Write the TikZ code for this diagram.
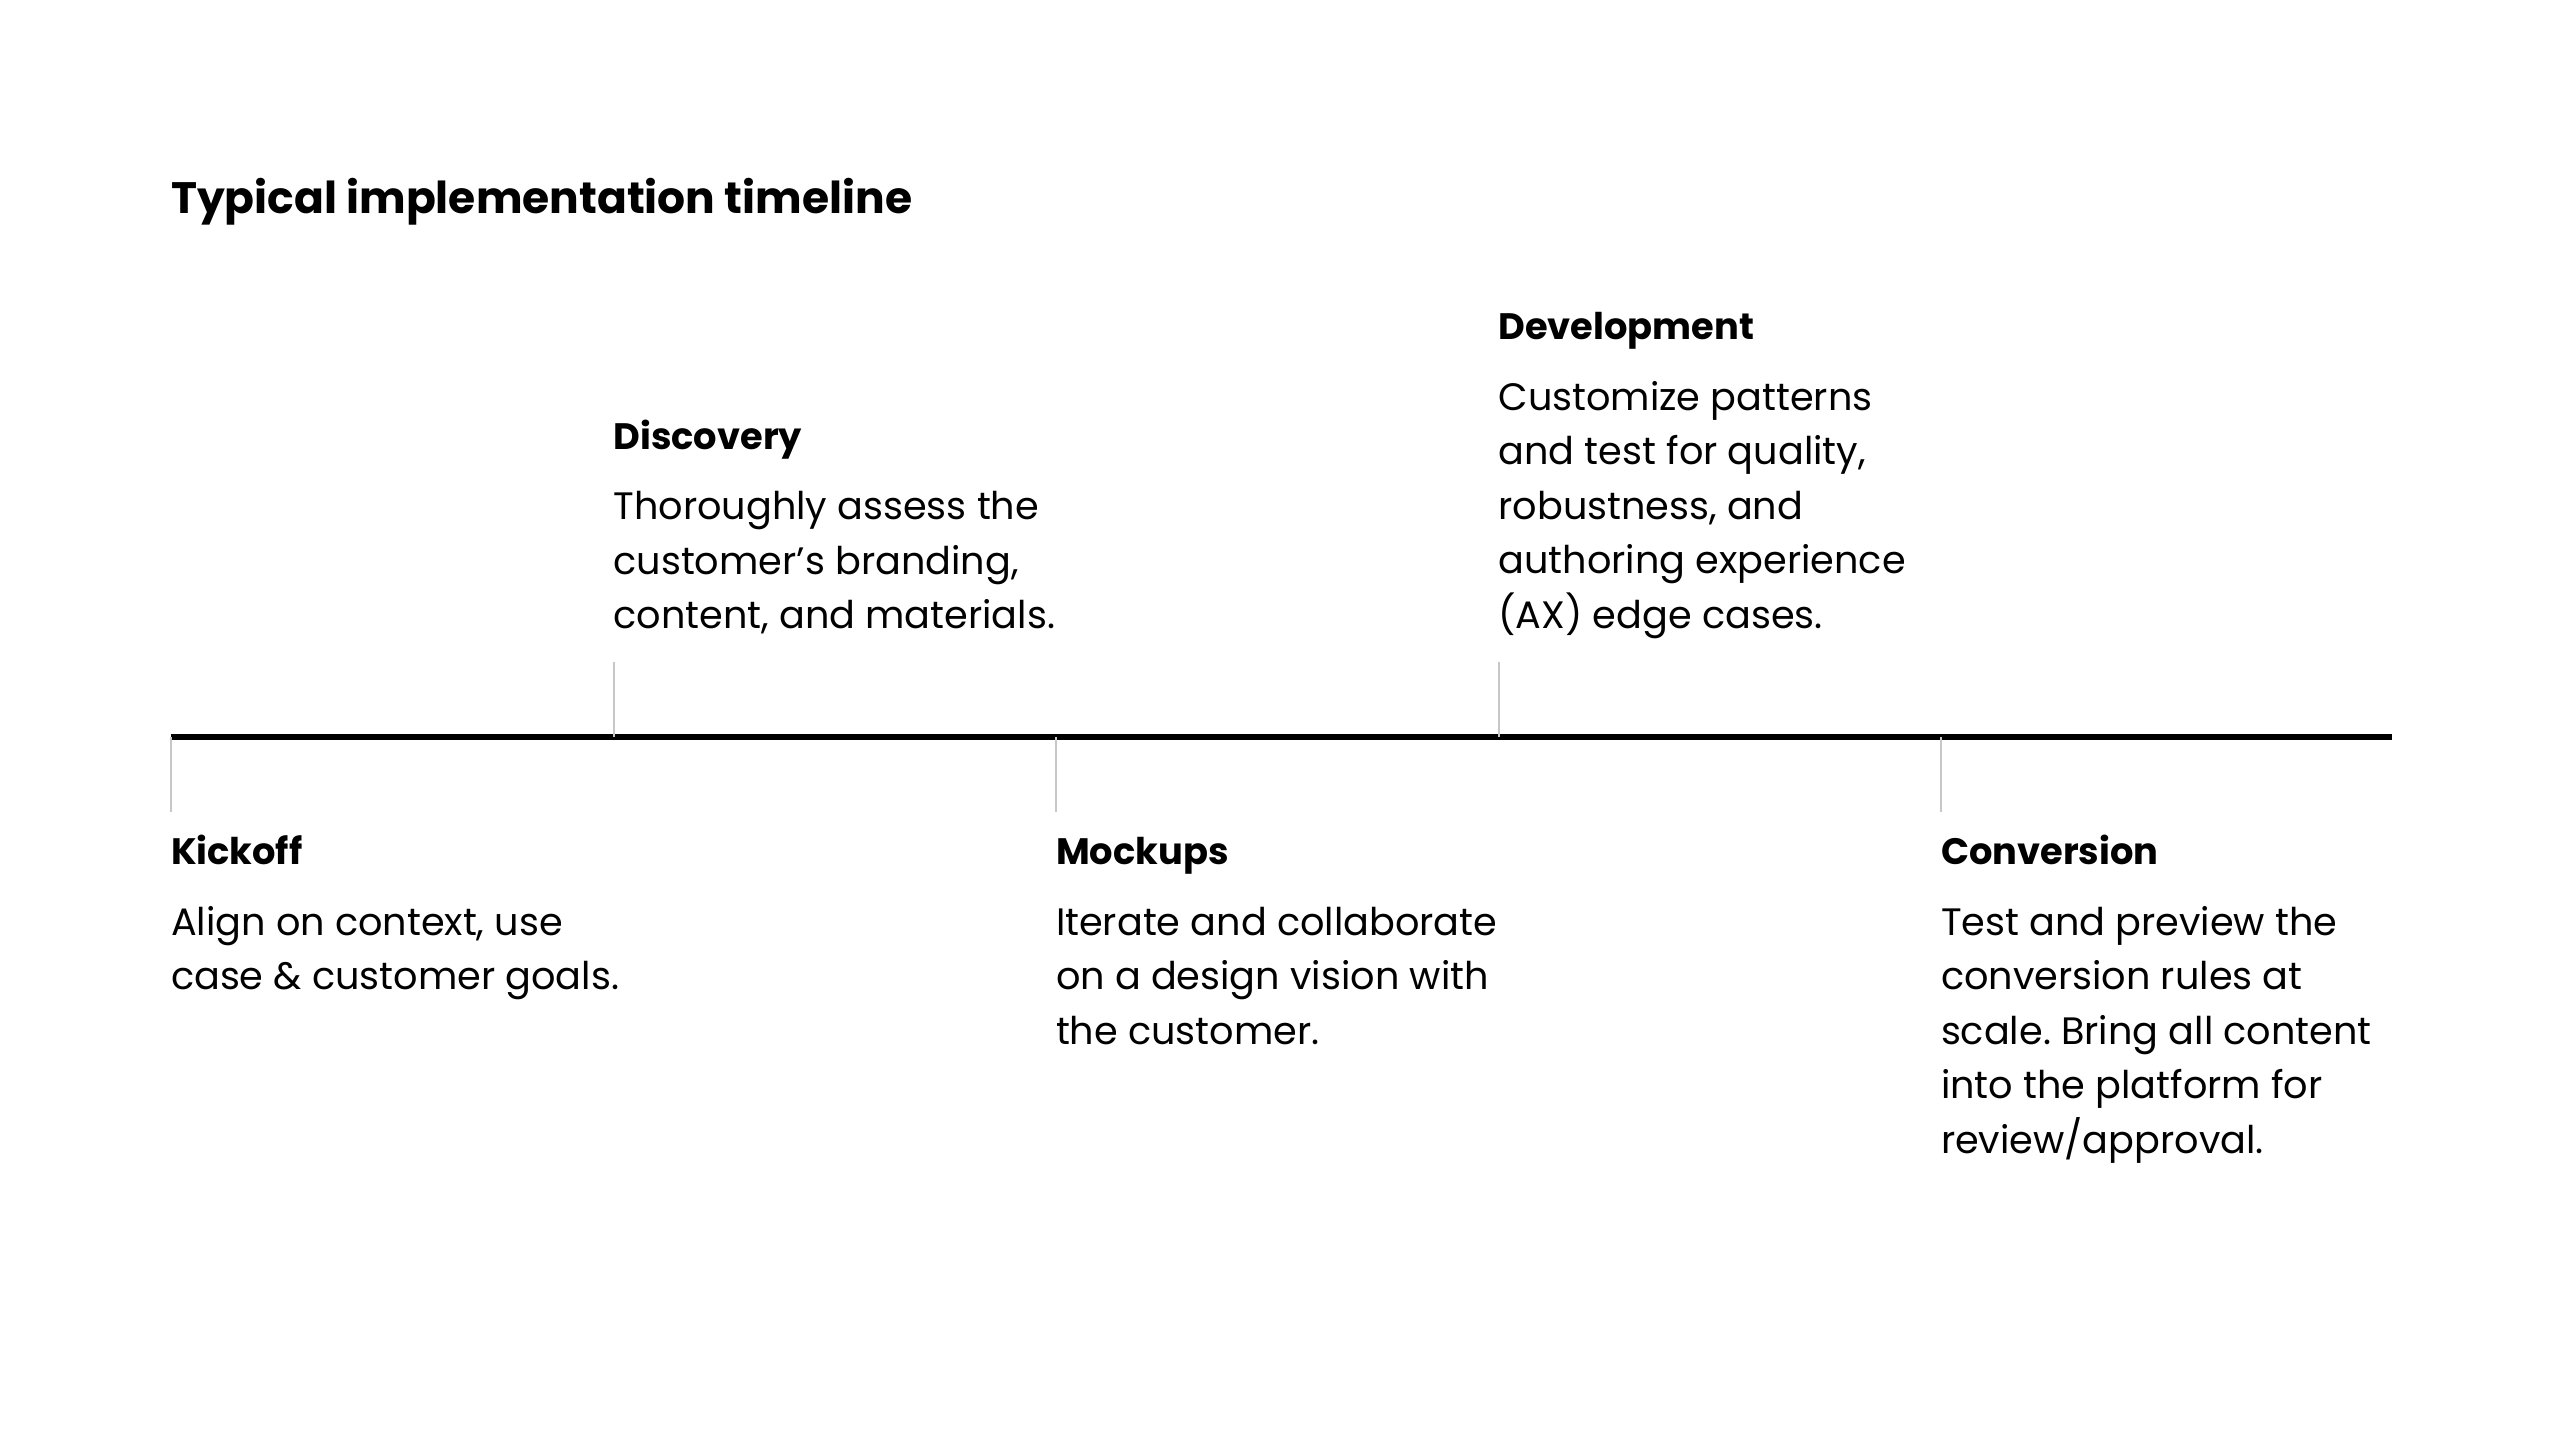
\documentclass[tikz,border=0pt]{standalone}
\usepackage{fontspec}
\setmainfont{Poppins}
\frenchspacing
\begin{document}
\begin{tikzpicture}[x=1bp,y=-1bp,
  every node/.style={inner sep=0pt,outer sep=0pt,anchor=base west,text=black},
  titletext/.style={font=\fontsize{44bp}{54bp}\selectfont\bfseries},
  headtext/.style={font=\fontsize{36.8bp}{54.5bp}\selectfont\bfseries},
  bodytext/.style={font=\fontsize{38.2bp}{54.5bp}\selectfont\frenchspacing},
  mainline/.style={line width=5.5bp,black},
  tickline/.style={line width=2bp,black!22}]
\useasboundingbox[fill=white] (0,0) rectangle (2560,1440);
\newcommand{\blines}[1]{\vtop{\baselineskip=54.5bp\lineskiplimit=-100bp #1}}
% title
\node[titletext] (title) at (171,214) {Typical implementation timeline};
% timeline
\coordinate (lstart) at (171,737);
\coordinate (lend) at (2392,737);
\draw[mainline] (lstart) -- (lend);
% tick points on the line and their free ends
\coordinate (k0) at (171,737);   \coordinate (k1) at (171,812);
\coordinate (d0) at (613.5,737); \coordinate (d1) at (613.5,662);
\coordinate (m0) at (1056,737);  \coordinate (m1) at (1056,812);
\coordinate (v0) at (1498.5,737);\coordinate (v1) at (1498.5,662);
\coordinate (c0) at (1941,737);  \coordinate (c1) at (1941,812);
\draw[tickline] (k0) -- (k1);
\draw[tickline] (d0) -- (d1);
\draw[tickline] (m0) -- (m1);
\draw[tickline] (v0) -- (v1);
\draw[tickline] (c0) -- (c1);
% Kickoff
\node[headtext] (kick) at (171,864) {Kickoff};
\node[bodytext] (kickb) at (171,935) {\blines{\hbox{Align on context, use}\hbox{case \& customer goals.}}};
% Discovery
\node[headtext] (disc) at (613.5,449) {Discovery};
\node[bodytext] (discb) at (613.5,519.5) {\blines{\hbox{Thoroughly assess the}\hbox{customer’s branding,}\hbox{content, and materials.}}};
% Mockups
\node[headtext] (mock) at (1056,864) {Mockups};
\node[bodytext] (mockb) at (1056,935) {\blines{\hbox{Iterate and collaborate}\hbox{on a design vision with}\hbox{the customer.}}};
% Development
\node[headtext] (dev) at (1498.5,339) {Development};
\node[bodytext] (devb) at (1498.5,410) {\blines{\hbox{Customize patterns}\hbox{and test for quality,}\hbox{robustness, and}\hbox{authoring experience}\hbox{(AX) edge cases.}}};
% Conversion
\node[headtext] (conv) at (1941,864) {Conversion};
\node[bodytext] (convb) at (1941,935) {\blines{\hbox{Test and preview the}\hbox{conversion rules at}\hbox{scale. Bring all content}\hbox{into the platform for}\hbox{review/approval.}}};
\end{tikzpicture}
\end{document}
